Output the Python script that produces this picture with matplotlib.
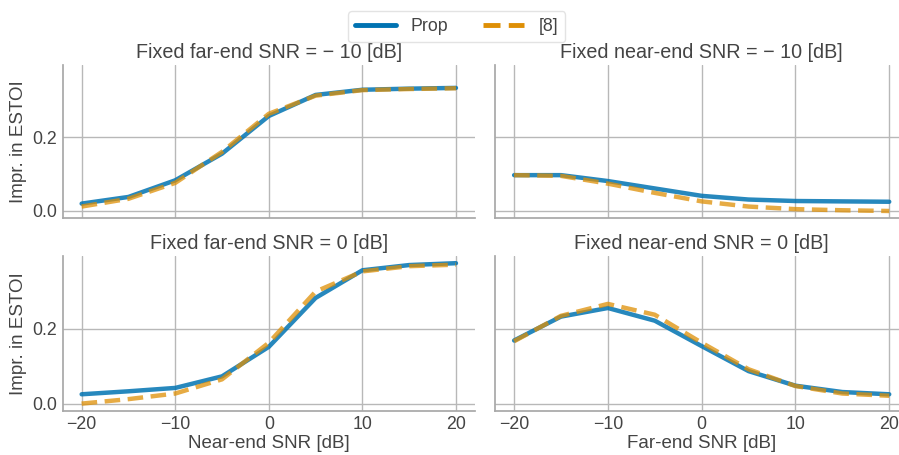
import numpy as np
import matplotlib
matplotlib.use("Agg")
import matplotlib.pyplot as plt
import seaborn as sns
from matplotlib.lines import Line2D

sns.set_theme(style="whitegrid", palette="colorblind")
plt.rcParams['font.family'] = ['Liberation Sans', 'DejaVu Sans']

# snr sweep
snr = [-20, -15, -10, -5, 0, 5, 10, 15, 20]

# fixed far-end -10 dB, sweep near-end
prop_far_m10 = [0.020, 0.038, 0.083, 0.155, 0.257, 0.314, 0.328, 0.331, 0.333]
ref_far_m10 = [0.012, 0.033, 0.076, 0.160, 0.263, 0.312, 0.327, 0.330, 0.332]
# fixed near-end -10 dB, sweep far-end
prop_near_m10 = [0.097, 0.097, 0.081, 0.061, 0.041, 0.031, 0.027, 0.026, 0.025]
ref_near_m10 = [0.097, 0.095, 0.074, 0.049, 0.026, 0.012, 0.005, 0.002, 0.000]
# fixed far-end 0 dB, sweep near-end
prop_far_0 = [0.025, 0.033, 0.042, 0.073, 0.152, 0.283, 0.357, 0.371, 0.376]
ref_far_0 = [0.000, 0.012, 0.027, 0.065, 0.163, 0.300, 0.354, 0.368, 0.372]
# fixed near-end 0 dB, sweep far-end
prop_near_0 = [0.169, 0.233, 0.256, 0.222, 0.154, 0.087, 0.048, 0.031, 0.025]
ref_near_0 = [0.167, 0.235, 0.267, 0.238, 0.163, 0.092, 0.047, 0.027, 0.021]

titles = ["Fixed far-end SNR = \u2212 10 [dB]", "Fixed near-end SNR = \u2212 10 [dB]",
          "Fixed far-end SNR = 0 [dB]", "Fixed near-end SNR = 0 [dB]"]
prop_list = [prop_far_m10, prop_near_m10, prop_far_0, prop_near_0]
ref_list = [ref_far_m10, ref_near_m10, ref_far_0, ref_near_0]

txt = '#444444'
blue = '#0173B2'
orange = '#DE8F05'
dash = (0, (3.5, 1.7))

fig = plt.figure(figsize=(8.99, 4.55), dpi=100)
ax_tl = fig.add_axes([0.070, 0.521, 0.458, 0.336])
ax_tr = fig.add_axes([0.551, 0.521, 0.459, 0.336], sharex=ax_tl, sharey=ax_tl)
ax_bl = fig.add_axes([0.070, 0.0975, 0.458, 0.3395], sharex=ax_tl, sharey=ax_tl)
ax_br = fig.add_axes([0.551, 0.0975, 0.459, 0.3395], sharex=ax_tl, sharey=ax_tl)
axes = [ax_tl, ax_tr, ax_bl, ax_br]

for ax, title, p, r in zip(axes, titles, prop_list, ref_list):
    ax.plot(snr, p, color=blue, lw=3.2, alpha=0.85, label='Prop')
    ax.plot(snr, r, color=orange, lw=3.2, alpha=0.75, ls=dash, label='[8]')
    ax.set_title(title, fontsize=14.2, color=txt, pad=5)
    ax.grid(True, color='#b8b8b8', lw=1)
    for s in ['top', 'right']:
        ax.spines[s].set_visible(False)
    for s in ['left', 'bottom']:
        ax.spines[s].set_color('#a8a8a8')
    ax.tick_params(labelsize=12.8, colors=txt, length=0, pad=4)

ax_tl.set_xticks([-20, -10, 0, 10, 20])
ax_tl.set_yticks([0.0, 0.2])
ax_tl.yaxis.set_major_formatter(matplotlib.ticker.FormatStrFormatter('%.1f'))

for ax in [ax_tl, ax_tr]:
    ax.tick_params(labelbottom=False)
for ax in [ax_tr, ax_br]:
    ax.tick_params(labelleft=False)

ax_tl.set_ylabel('Impr. in ESTOI', fontsize=13.5, color=txt)
ax_bl.set_ylabel('Impr. in ESTOI', fontsize=13.5, color=txt)
ax_bl.set_xlabel('Near-end SNR [dB]', fontsize=13.5, color=txt, labelpad=1)
ax_br.set_xlabel('Far-end SNR [dB]', fontsize=13.5, color=txt, labelpad=1)

labels = ['Prop', '[8]']
handles = [Line2D([], [], color=blue, lw=3.5),
           Line2D([], [], color=orange, lw=3.5, ls=dash)]
leg = fig.legend(handles, labels, loc='upper center', bbox_to_anchor=(0.508, 0.995),
                 ncol=2, fontsize=12.8, frameon=True, handlelength=2.3,
                 columnspacing=2.0, borderpad=0.4)
for t in leg.get_texts():
    t.set_color(txt)
leg.get_frame().set_edgecolor('#dddddd')

fig.savefig('out.png', dpi=100)
